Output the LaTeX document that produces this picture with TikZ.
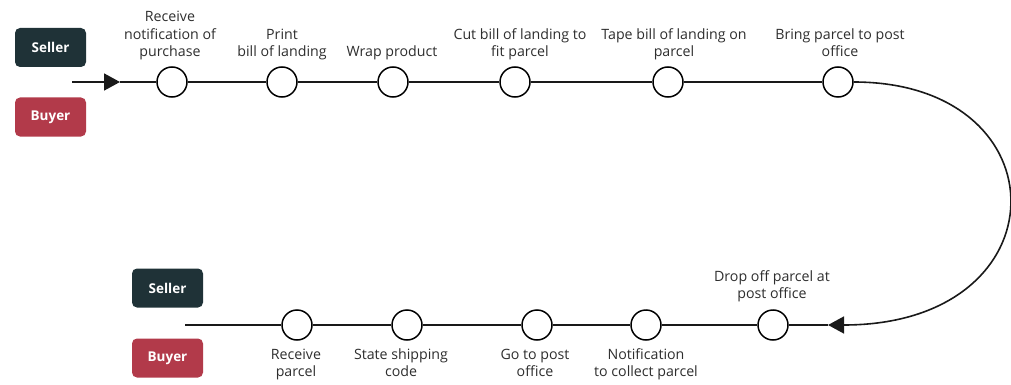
\documentclass[tikz,border=0pt]{standalone}
\usepackage{fontspec}
\setmainfont{Open Sans}
\usetikzlibrary{arrows.meta}
\definecolor{sellerc}{HTML}{1F3237}
\definecolor{buyerc}{HTML}{B23A4A}
\definecolor{txt}{HTML}{2E2E2E}
\begin{document}
\begin{tikzpicture}[x=1pt,y=-1pt,
  stepc/.style={circle,draw=black,line width=1.5pt,fill=white,minimum size=30pt,inner sep=0pt},
  role/.style={rounded corners=5pt,minimum width=71pt,minimum height=39pt,inner sep=0pt,text=white,font=\fontsize{13.5}{16}\selectfont\bfseries},
  seller/.style={role,fill=sellerc},
  buyer/.style={role,fill=buyerc},
  lbl/.style={align=center,inner sep=0pt,text depth=0pt,anchor=south,text=txt,font=\fontsize{14.2}{17.5}\selectfont},
  conn/.style={line width=1.6pt,draw=black!90},
  arr/.style={conn,-{Triangle[length=16pt,width=17pt]}}
]
\useasboundingbox (0,0) rectangle (1011,385);
% role boxes
\node[seller] (s1) at (50.5,47.5) {Seller};
\node[buyer]  (u1) at (50.5,117) {Buyer};
\node[seller] (s2) at (167.5,288) {Seller};
\node[buyer]  (u2) at (167.5,358) {Buyer};
% top circles
\node[stepc] (c1) at (172,82) {};
\node[stepc] (c2) at (282,82) {};
\node[stepc] (c3) at (393,82) {};
\node[stepc] (c4) at (515,82) {};
\node[stepc] (c5) at (668,82) {};
\node[stepc] (c6) at (838,82) {};
% bottom circles
\node[stepc] (b1) at (773,325) {};
\node[stepc] (b2) at (646,325) {};
\node[stepc] (b3) at (537,325) {};
\node[stepc] (b4) at (407,325) {};
\node[stepc] (b5) at (297,325) {};
% top labels
\node[lbl] (l1) at (170,57) {Receive\\notification of\\purchase};
\node[lbl] (l2) at (282,57) {Print\\bill of landing};
\node[lbl] (l3) at (392,57) {Wrap product};
\node[lbl] (l4) at (520,57) {Cut bill of landing to\\fit parcel};
\node[lbl] (l5) at (674,57) {Tape bill of landing on\\parcel};
\node[lbl] (l6) at (840,57) {Bring parcel to post\\office};
% bottom labels
\node[lbl] (m1) at (772,299) {Drop off parcel at\\post office};
\node[lbl] (m2) at (646,377) {Notification\\to collect parcel};
\node[lbl] (m3) at (535,377) {Go to post\\office};
\node[lbl] (m4) at (401,377) {State shipping\\code};
\node[lbl] (m5) at (296,377) {Receive\\parcel};
% connectors
\coordinate (startA) at (72,82);
\coordinate (tipA) at (120,82);
\coordinate (tipB) at (828,325);
\coordinate (endB) at (185,325);
\draw[arr] (startA) -- (tipA);
\draw[conn] (tipA) -- (c1);
\draw[conn] (c1) -- (c2);
\draw[conn] (c2) -- (c3);
\draw[conn] (c3) -- (c4);
\draw[conn] (c4) -- (c5);
\draw[conn] (c5) -- (c6);
\draw[arr] (c6.east) .. controls (1065,82) and (1065,325) .. (tipB);
\draw[conn] (tipB) -- (b1);
\draw[conn] (b1) -- (b2);
\draw[conn] (b2) -- (b3);
\draw[conn] (b3) -- (b4);
\draw[conn] (b4) -- (b5);
\draw[conn] (b5) -- (endB);
\end{tikzpicture}
\end{document}
